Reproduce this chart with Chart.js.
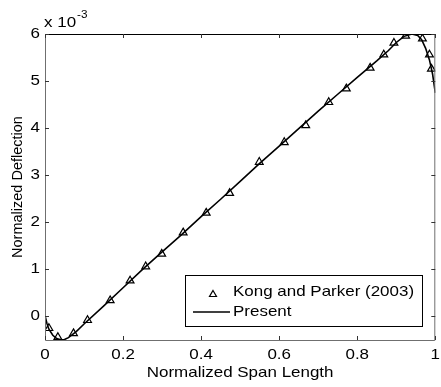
<!DOCTYPE html>
<html>
<head>
<meta charset="utf-8">
<script src="https://cdn.jsdelivr.net/npm/chart.js@4"></script>
<style>
  html, body { margin: 0; padding: 0; background: #fff; }
  #wrap { width: 441px; height: 387px; }
</style>
</head>
<body>
<div id="wrap"><canvas id="deflChart" width="441" height="387"></canvas></div>
<script>
// deflection values are in units of 10^-3
const kongX = [0.01, 0.033, 0.073, 0.109, 0.167, 0.218, 0.258, 0.299, 0.354, 0.413,
  0.473, 0.549, 0.613, 0.668, 0.727, 0.772, 0.833, 0.868, 0.894, 0.924,
  0.942, 0.967, 0.985, 0.99];
const kongY = [-0.25, -0.44, -0.36, -0.08, 0.34, 0.76, 1.06, 1.33, 1.78, 2.2,
  2.62, 3.28, 3.7, 4.06, 4.55, 4.84, 5.28, 5.56, 5.81, 5.96,
  6.05, 5.9, 5.56, 5.26];

const presentX = [0, 0.005, 0.01, 0.02, 0.03, 0.04, 0.05, 0.06, 0.08, 0.1,
  0.15, 0.2, 0.25, 0.3, 0.35, 0.4, 0.45, 0.5, 0.55, 0.6,
  0.65, 0.7, 0.75, 0.8, 0.85, 0.88, 0.9, 0.92, 0.94, 0.955,
  0.965, 0.975, 0.985, 0.993, 1.0];
const presentY = [0.02, -0.15, -0.27, -0.4, -0.47, -0.5, -0.49, -0.45, -0.32, -0.16,
  0.22, 0.61, 1.0, 1.37, 1.74, 2.12, 2.49, 2.87, 3.25, 3.62,
  3.99, 4.36, 4.72, 5.08, 5.43, 5.65, 5.82, 5.95, 6.0, 5.97,
  5.88, 5.7, 5.45, 5.15, 4.75];

const xTicks = [0, 0.2, 0.4, 0.6, 0.8, 1];
const yTicks = [0, 1, 2, 3, 4, 5, 6];

const FONT = 'Liberation Sans, Arial, sans-serif';
const FSIZE = 14.5;
const STRETCH = 1.17; // the reference text is a bit wide

// text drawn a little stretched sideways
function wideText(ctx, text, x, y, align, size) {
  ctx.save();
  ctx.font = size + 'px ' + FONT;
  ctx.textAlign = align;
  ctx.translate(x, y);
  ctx.scale(STRETCH, 1);
  ctx.fillText(text, 0, 0);
  ctx.restore();
}

// MATLAB-style box, inward ticks, labels and legend
const matlabBox = {
  id: 'matlabBox',
  afterDraw(chart) {
    const ctx = chart.ctx;
    const a = chart.chartArea;
    const xs = chart.scales.x, ys = chart.scales.y;
    ctx.save();
    ctx.lineWidth = 1;
    ctx.strokeStyle = '#6f6f6f';
    ctx.beginPath();
    ctx.moveTo(a.left + 0.5, a.top);
    ctx.lineTo(a.left + 0.5, a.bottom + 0.5);
    ctx.lineTo(a.right - 0.5, a.bottom + 0.5);
    ctx.lineTo(a.right - 0.5, a.top);
    ctx.stroke();
    ctx.strokeStyle = '#000';
    ctx.beginPath();
    ctx.moveTo(a.left, a.top + 0.5);
    ctx.lineTo(a.right, a.top + 0.5);
    ctx.stroke();

    ctx.strokeStyle = '#333';
    ctx.beginPath();
    xTicks.forEach(v => {
      const px = Math.round(xs.getPixelForValue(v)) + 0.5;
      ctx.moveTo(px, a.bottom); ctx.lineTo(px, a.bottom - 4);
      ctx.moveTo(px, a.top); ctx.lineTo(px, a.top + 4);
    });
    yTicks.forEach(v => {
      const py = Math.round(ys.getPixelForValue(v)) + 0.5;
      ctx.moveTo(a.left, py); ctx.lineTo(a.left + 4, py);
      ctx.moveTo(a.right, py); ctx.lineTo(a.right - 4, py);
    });
    ctx.stroke();

    ctx.fillStyle = '#000';
    ctx.textBaseline = 'middle';
    xTicks.forEach(v => {
      wideText(ctx, String(v), xs.getPixelForValue(v), a.bottom + 15, 'center', FSIZE);
    });
    yTicks.forEach(v => {
      wideText(ctx, String(v), a.left - 5, ys.getPixelForValue(v), 'right', FSIZE);
    });
    wideText(ctx, 'Normalized Span Length', (a.left + a.right) / 2, 373, 'center', FSIZE);

    // exponent
    ctx.textBaseline = 'alphabetic';
    wideText(ctx, 'x 10', 44, 27, 'left', FSIZE);
    ctx.font = FSIZE + 'px ' + FONT;
    const w = ctx.measureText('x 10').width * STRETCH;
    wideText(ctx, '-3', 44 + w + 1, 18, 'left', 10);

    // legend
    const lx = 185, ly = 275, lw = 237, lh = 51;
    ctx.fillStyle = '#fff';
    ctx.fillRect(lx, ly, lw, lh);
    ctx.strokeStyle = '#000';
    ctx.lineWidth = 1;
    ctx.strokeRect(lx + 0.5, ly + 0.5, lw, lh);
    ctx.lineWidth = 1.2;
    ctx.beginPath();
    ctx.moveTo(213, 290.5);
    ctx.lineTo(216.5, 296.5);
    ctx.lineTo(209.5, 296.5);
    ctx.closePath();
    ctx.stroke();
    ctx.lineWidth = 1.5;
    ctx.beginPath();
    ctx.moveTo(193, 312);
    ctx.lineTo(230, 312);
    ctx.stroke();
    ctx.fillStyle = '#000';
    ctx.textBaseline = 'middle';
    wideText(ctx, 'Kong and Parker (2003)', 233, 292, 'left', FSIZE);
    wideText(ctx, 'Present', 233, 312, 'left', FSIZE);
    ctx.restore();
  }
};

const ctx = document.getElementById('deflChart').getContext('2d');
new Chart(ctx, {
  type: 'scatter',
  data: {
    datasets: [
      {
        label: 'Present',
        data: presentX.map((x, i) => ({ x: x, y: presentY[i] })),
        showLine: true,
        borderColor: '#000',
        borderWidth: 1.6,
        pointRadius: 0,
        tension: 0
      },
      {
        label: 'Kong and Parker (2003)',
        data: kongX.map((x, i) => ({ x: x, y: kongY[i] })),
        pointStyle: 'triangle',
        pointRadius: 4.5,
        pointBorderWidth: 1.2,
        borderColor: '#000',
        backgroundColor: 'rgba(0,0,0,0)'
      }
    ]
  },
  options: {
    responsive: false,
    animation: false,
    devicePixelRatio: 1,
    layout: { padding: { top: 34, right: 1, left: 0, bottom: 0 } },
    plugins: {
      legend: { display: false },
      tooltip: { enabled: false }
    },
    scales: {
      x: {
        type: 'linear',
        min: 0,
        max: 1,
        grid: { display: false, drawTicks: false },
        border: { display: false },
        afterBuildTicks: s => { s.ticks = xTicks.map(v => ({ value: v })); },
        afterFit: s => { s.height = 47; s.paddingLeft = 0; s.paddingRight = 0; },
        ticks: { display: false }
      },
      y: {
        type: 'linear',
        min: -0.5,
        max: 6,
        grid: { display: false, drawTicks: false },
        border: { display: false },
        afterBuildTicks: s => { s.ticks = yTicks.map(v => ({ value: v })); },
        afterFit: s => { s.width = 45; s.paddingTop = 0; s.paddingBottom = 0; },
        ticks: { display: false },
        title: {
          display: true,
          text: 'Normalized Deflection',
          color: '#000',
          font: { family: FONT, size: FSIZE },
          padding: { top: 9, bottom: 0 }
        }
      }
    }
  },
  plugins: [matlabBox]
});
</script>
</body>
</html>
